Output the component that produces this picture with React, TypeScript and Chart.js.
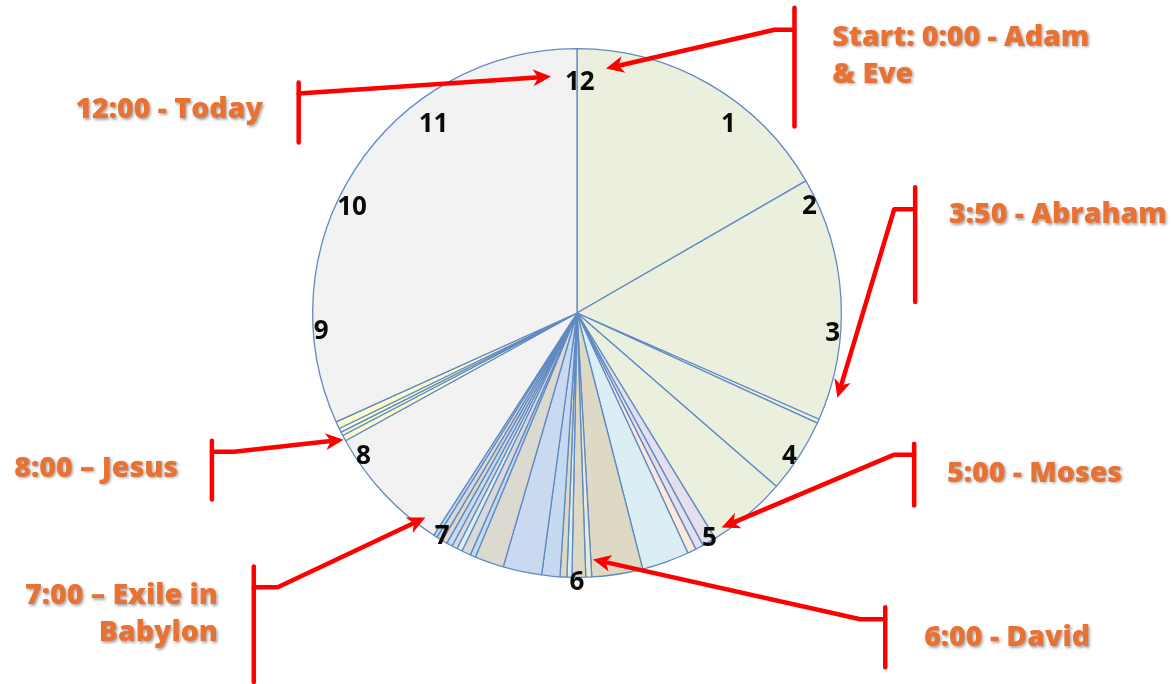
import React, { useEffect, useRef } from "react";
import { Chart, registerables } from "chart.js";

Chart.register(...registerables);

// ---- DATA ----
// Slices of the "12-hour clock" of history, in clock minutes (720 = full circle)
const periods = [
  "P1", "P2", "P3", "P4", "P5", "P6", "P7", "P8", "P9", "P10",
  "P11", "P12", "P13", "P14", "P15", "P16", "P17", "P18", "P19", "P20",
  "P21", "P22", "P23", "P24", "P25", "P26", "P27", "P28", "P29", "P30", "P31",
];
const periodMinutes = [
  120, 107.4, 1.8, 32.8, 35, 6, 3.6, 3.8, 20.8, 22.4,
  2.6, 6, 2.2, 3, 8, 17, 12.8, 2.4, 4, 2.4,
  2.4, 2.6, 2.4, 2.6, 1.6, 56.6, 2.6, 1.6, 1.8, 3.2, 228.6,
];
const periodColors = [
  "#EBF0DE", "#EBF0DE", "#EBF0DE", "#EBF0DE", "#EBF0DE", "#E4DFEC", "#E4DFEC", "#FDE9D9", "#DAEEF3", "#DDD9C4",
  "#E6EBDC", "#DDD9C4", "#DAEEF3", "#DDD9C4", "#C5D9F1", "#C9DAF0", "#DCD9D0", "#C5D9F1", "#D9D9D9", "#DAEEF3",
  "#D9D9D9", "#C5D9F1", "#DDD9C4", "#D9D9D9", "#C5D9F1", "#F2F2F2", "#FAFACC", "#F2F5D8", "#FAFACC", "#FAFACC", "#F2F2F2",
];
const hourLabels = ["12", "1", "2", "3", "4", "5", "6", "7", "8", "9", "10", "11"];
const eventTexts = [
  ["Start: 0:00 - Adam", "& Eve"],
  ["12:00 - Today"],
  ["3:50 - Abraham"],
  ["5:00 - Moses"],
  ["6:00 - David"],
  ["7:00 \u2013 Exile in", "Babylon"],
  ["8:00 \u2013 Jesus"],
];

// ---- LAYOUT (relative to pie centre, in units of a 265px radius) ----
const HOUR_POS = [
  [0.7, 233], [38.5, 244], [65.1, 257], [94.2, 257], [123.7, 256], [149.4, 261],
  [180, 268], [211.3, 260], [236.4, 257], [266.2, 257], [295.6, 250], [323, 239],
];
type Callout = {
  tip: number[]; elbow: number[]; barX: number; barY: number[]; joinY: number;
  textX: number; textY: number; align: CanvasTextAlign;
};
const CALLOUTS: Callout[] = [
  { tip: [29, -245], elbow: [198, -284], barX: 218, barY: [-306, -187], joinY: -284, textX: 256, textY: -268, align: "left" },
  { tip: [-26, -237], elbow: [-279, -220], barX: -279, barY: [-231, -171], joinY: -220, textX: -315, textY: -195, align: "right" },
  { tip: [261, 85], elbow: [318, -104], barX: 339, barY: [-126, -11], joinY: -104, textX: 373, textY: -90, align: "left" },
  { tip: [145, 215], elbow: [318, 142], barX: 338, barY: [131, 193], joinY: 142, textX: 371, textY: 169, align: "left" },
  { tip: [16, 247], elbow: [284, 307], barX: 309, barY: [295, 355], joinY: 307, textX: 348, textY: 334, align: "left" },
  { tip: [-152, 205], elbow: [-300, 275], barX: -324, barY: [254, 370], joinY: 275, textX: -360, textY: 292, align: "right" },
  { tip: [-234, 127], elbow: [-344, 139], barX: -366, barY: [128, 187], joinY: 139, textX: -400, textY: 164, align: "right" },
];

const overlayPlugin = {
  id: "clockOverlay",
  afterDraw(chart: any) {
    const meta = chart.getDatasetMeta(0);
    const arc = meta.data[0];
    if (!arc) return;
    const { x: cx, y: cy, outerRadius } = arc.getProps(["x", "y", "outerRadius"], true);
    const k = outerRadius / 265;
    const ctx: CanvasRenderingContext2D = chart.ctx;
    ctx.save();

    // hour numbers
    const hourSize = 26;
    ctx.font = `700 ${hourSize}px "Open Sans", sans-serif`;
    ctx.fillStyle = "#0A0A0A";
    ctx.textAlign = "center";
    ctx.textBaseline = "alphabetic";
    hourLabels.forEach((lab, i) => {
      const [deg, r] = HOUR_POS[i];
      const a = (deg * Math.PI) / 180;
      const px = cx + Math.sin(a) * r * k;
      const py = cy - Math.cos(a) * r * k;
      ctx.fillText(lab, px, py + hourSize * 0.36);
    });

    // red callout brackets + arrows
    ctx.strokeStyle = "#FF0000";
    ctx.fillStyle = "#FF0000";
    ctx.lineWidth = 4.5;
    ctx.lineCap = "round";
    ctx.lineJoin = "round";
    const P = (v: number[]) => [cx + v[0] * k, cy + v[1] * k];
    CALLOUTS.forEach((c) => {
      const [bx, by0] = P([c.barX, c.barY[0]]);
      const [, by1] = P([c.barX, c.barY[1]]);
      const [, jy] = P([c.barX, c.joinY]);
      const [ex, ey] = P(c.elbow);
      const [tx, ty] = P(c.tip);
      ctx.beginPath();
      ctx.moveTo(bx, by0);
      ctx.lineTo(bx, by1);
      ctx.stroke();
      const dx = tx - ex;
      const dy = ty - ey;
      const len = Math.hypot(dx, dy);
      const ux = dx / len;
      const uy = dy / len;
      const head = 18;
      const half = 8.5;
      const baseX = tx - ux * head;
      const baseY = ty - uy * head;
      ctx.beginPath();
      ctx.moveTo(bx, jy);
      ctx.lineTo(ex, ey);
      ctx.lineTo(baseX + ux * 3, baseY + uy * 3);
      ctx.stroke();
      ctx.beginPath();
      ctx.moveTo(tx, ty);
      ctx.lineTo(baseX - uy * half, baseY + ux * half);
      ctx.lineTo(baseX + ux * 5, baseY + uy * 5);
      ctx.lineTo(baseX + uy * half, baseY - ux * half);
      ctx.closePath();
      ctx.fill();
    });

    // orange event texts
    ctx.font = `800 28.5px "Open Sans", sans-serif`;
    ctx.fillStyle = "#E97132";
    ctx.shadowColor = "rgba(0,0,0,0.35)";
    ctx.shadowBlur = 3;
    ctx.shadowOffsetX = 1.5;
    ctx.shadowOffsetY = 1.5;
    ctx.textBaseline = "alphabetic";
    CALLOUTS.forEach((c, i) => {
      ctx.textAlign = c.align;
      const [tx, ty] = P([c.textX, c.textY]);
      eventTexts[i].forEach((line, j) => {
        ctx.fillText(line, tx, ty + j * 37 * k);
      });
    });
    ctx.restore();
  },
};

export default function App() {
  const canvasRef = useRef<HTMLCanvasElement | null>(null);

  useEffect(() => {
    if (!canvasRef.current) return;
    const chart = new Chart(canvasRef.current, {
      type: "pie",
      data: {
        labels: periods,
        datasets: [
          {
            data: periodMinutes,
            backgroundColor: periodColors,
            borderColor: "#6189C3",
            borderWidth: 1.3,
          },
        ],
      },
      options: {
        responsive: false,
        animation: false,
        events: [],
        layout: { padding: { left: 312, right: 330, top: 48, bottom: 106 } },
        plugins: {
          legend: { display: false },
          tooltip: { enabled: false },
        },
      },
      plugins: [overlayPlugin],
    });
    return () => chart.destroy();
  }, []);

  return (
    <div style={{ position: "fixed", left: 0, top: 0, width: 1172, height: 684, background: "#ffffff" }}>
      <canvas ref={canvasRef} width={1172} height={684} style={{ width: 1172, height: 684, display: "block" }} />
    </div>
  );
}
